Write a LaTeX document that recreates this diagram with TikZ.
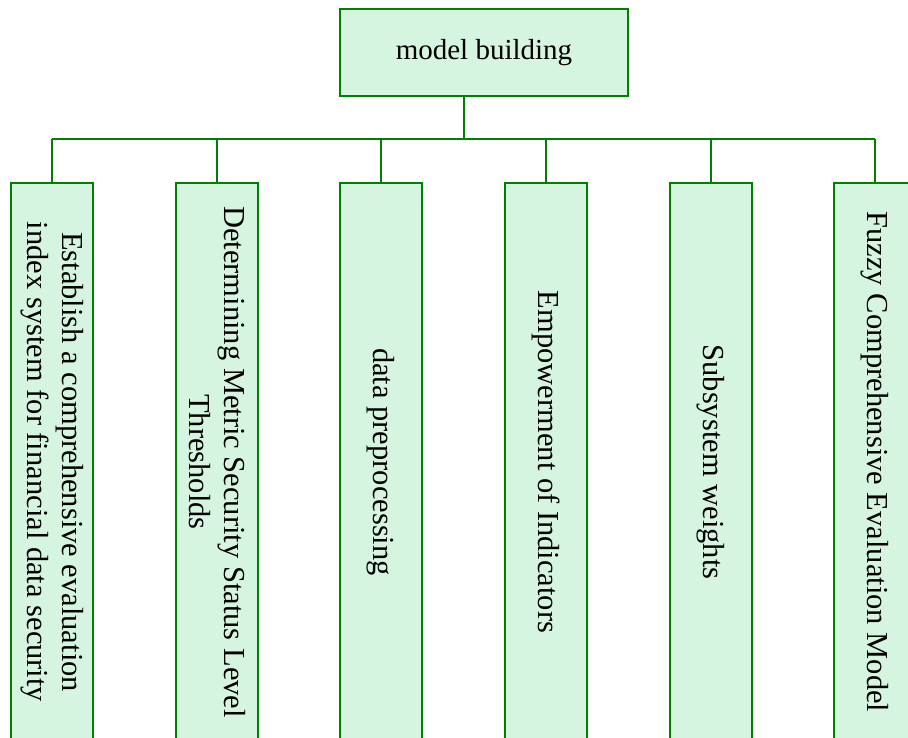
\documentclass[tikz,border=0pt]{standalone}
\usepackage{fontspec}
\setmainfont{Liberation Serif}
\definecolor{boxfill}{HTML}{D6F5E1}
\definecolor{boxline}{HTML}{008000}
\begin{document}
\begin{tikzpicture}[x=1pt,y=-1pt,
  frame/.style={draw=boxline, fill=boxfill, line width=2pt, inner sep=0pt},
  headbox/.style={frame, minimum width=288pt, minimum height=87pt,
    font=\fontsize{29}{34}\selectfont},
  stepbox/.style={frame, rotate=-90, minimum width=558pt, minimum height=82pt,
    align=center, font=\fontsize{30.5}{35}\selectfont},
  link/.style={draw=boxline, line width=2pt}]
\useasboundingbox (0,0) rectangle (908,738);

% root of the tree
\node[headbox] (top) at (484,52.5) {model building};

% the six modelling steps
\node[stepbox] (b1) at (52,462)  {Establish a comprehensive evaluation\\index system for financial data security};
\node[stepbox] (b2) at (217,462) {Determining Metric Security Status Level\\Thresholds};
\node[stepbox] (b3) at (381,462) {data preprocessing};
\node[stepbox] (b4) at (546,462) {Empowerment of Indicators};
\node[stepbox] (b5) at (711,462) {Subsystem weights};
\node[stepbox] (b6) at (875,462) {Fuzzy Comprehensive Evaluation Model};

% connectors: trunk, bus and drops (west anchor of a rotated box is its top)
\coordinate (hub) at (464,139);
\draw[link] (top.south -| hub) -- (hub);
\draw[link] (b1.west |- hub) -- (b6.west |- hub);
\foreach \b in {b1,b2,b3,b4,b5,b6}
  \draw[link] (\b.west |- hub) -- (\b.west);
\end{tikzpicture}
\end{document}
